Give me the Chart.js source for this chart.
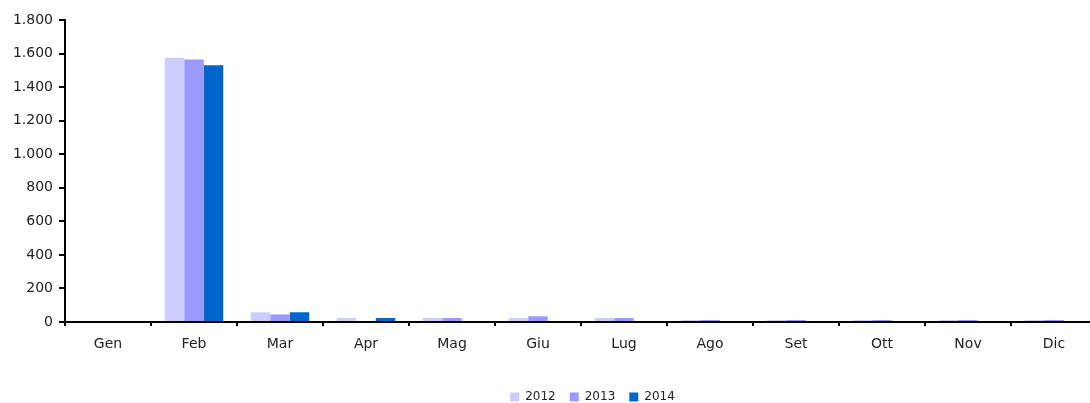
<!DOCTYPE html>
<html>
<head>
<meta charset="utf-8">
<script src="https://cdn.jsdelivr.net/npm/chart.js@4/dist/chart.umd.min.js"></script>
<style>
  html, body { margin: 0; padding: 0; background: #fff; overflow: hidden; }
  #wrap { width: 1090px; height: 403px; overflow: hidden; }
</style>
</head>
<body>
<div id="wrap"><canvas id="myChart" width="1097" height="403"></canvas></div>
<script>
let months = ["Gen", "Feb", "Mar", "Apr", "Mag", "Giu", "Lug", "Ago", "Set", "Ott", "Nov", "Dic"];
let values2012 = [0, 1575, 58, 24, 24, 24, 24, 12, 12, 12, 12, 12];
let values2013 = [0, 1565, 45, 0, 24, 34, 24, 12, 12, 12, 12, 12];
let values2014 = [0, 1530, 58, 24, null, null, null, null, null, null, null, null];
let yTicks = [0, 200, 400, 600, 800, 1000, 1200, 1400, 1600, 1800];

// italian style thousands: 1.800
function formatNum(v) {
  return v.toString().replace(/\B(?=(\d{3})+(?!\d))/g, ".");
}

// the legend in the original sits a bit right of the middle
const shiftLegend = {
  id: "shiftLegend",
  afterLayout(chart) {
    chart.legend.left += 44;
    chart.legend.right += 44;
  },
};

Chart.defaults.font.family = "'DejaVu Sans', sans-serif";
Chart.defaults.color = "#222";

const ctx = document.getElementById("myChart").getContext("2d");
let myChart = new Chart(ctx, {
  type: "bar",
  data: {
    labels: months,
    datasets: [
      { label: "2012", data: values2012, backgroundColor: "#CCCCFF" },
      { label: "2013", data: values2013, backgroundColor: "#9999FF" },
      { label: "2014", data: values2014, backgroundColor: "#0066CC" },
    ],
  },
  options: {
    responsive: false,
    animation: false,
    layout: { padding: { top: 20, right: 0, bottom: -10, left: 0 } },
    datasets: {
      bar: { barPercentage: 1.0, categoryPercentage: 0.68, borderWidth: 0 },
    },
    scales: {
      x: {
        offset: true,
        grid: {
          offset: true,
          drawOnChartArea: false,
          drawTicks: true,
          tickLength: 4,
          color: "#000",
          lineWidth: 2,
        },
        border: { color: "#000", width: 2 },
        ticks: { font: { size: 14 }, padding: 10, maxRotation: 0 },
        afterFit: function (scale) {
          scale.height = 55;
        },
      },
      y: {
        min: 0,
        max: 1800,
        afterBuildTicks: function (scale) {
          scale.ticks = yTicks.map((v) => ({ value: v }));
        },
        grid: {
          drawOnChartArea: false,
          drawTicks: true,
          tickLength: 6,
          color: "#000",
          lineWidth: 2,
        },
        border: { color: "#000", width: 2 },
        ticks: {
          font: { size: 14 },
          padding: 6,
          callback: function (value) {
            return formatNum(value);
          },
        },
        afterFit: function (scale) {
          scale.width = 65;
        },
      },
    },
    plugins: {
      legend: {
        display: true,
        position: "bottom",
        labels: {
          boxWidth: 9,
          boxHeight: 9,
          padding: 14,
          font: { size: 12 },
          color: "#222",
        },
      },
      tooltip: { enabled: false },
    },
  },
  plugins: [shiftLegend],
});
</script>
</body>
</html>
